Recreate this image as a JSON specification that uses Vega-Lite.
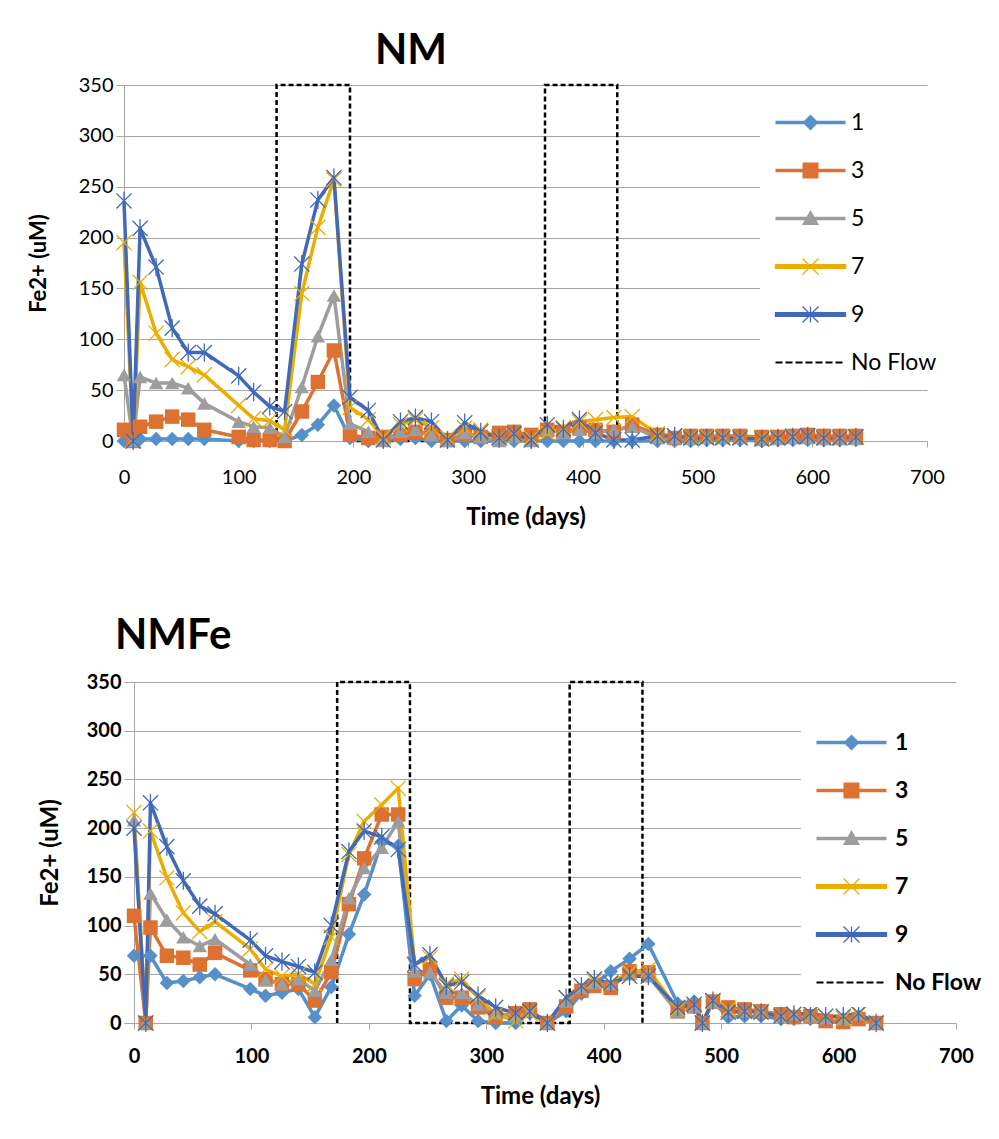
{
  "$schema": "https://vega.github.io/schema/vega-lite/v6.json",
  "padding": {"left": 27, "top": 30, "right": 5, "bottom": 5},
  "background": "white",
  "spacing": 86,
  "config": {
    "view": {"stroke": null},
    "font": "Lato",
    "axis": {"labelColor": "#000000", "titleColor": "#000000", "gridColor": "#A6A6A6", "domainColor": "#A6A6A6", "tickColor": "#A6A6A6", "labelFont": "Lato", "titleFont": "Lato", "labelFlush": false}
  },
  "resolve": {"legend": {"color": "independent"}},
  "datasets": {
    "nm": [
      {"d": 0, "1": 0, "3": 11, "5": 65, "7": 195, "9": 236},
      {"d": 8, "1": 0, "3": 0, "5": 0, "7": 0, "9": 0},
      {"d": 14, "1": 2, "3": 14, "5": 63, "7": 156, "9": 209},
      {"d": 28, "1": 2, "3": 19, "5": 57, "7": 106, "9": 171},
      {"d": 42, "1": 2, "3": 24, "5": 57, "7": 80, "9": 111},
      {"d": 56, "1": 2, "3": 21, "5": 52, "7": 73, "9": 87},
      {"d": 70, "1": 2, "3": 11, "5": 37, "7": 65, "9": 87},
      {"d": 100, "1": 0, "3": 4, "5": 19, "7": 35, "9": 64},
      {"d": 113, "1": 0, "3": 1, "5": 14, "7": 22, "9": 48},
      {"d": 127, "1": 0, "3": 1, "5": 13, "7": 20, "9": 34},
      {"d": 140, "1": 0, "3": 0, "5": 4, "7": 11, "9": 29},
      {"d": 155, "1": 6, "3": 29, "5": 53, "7": 145, "9": 174},
      {"d": 169, "1": 16, "3": 58, "5": 103, "7": 210, "9": 237},
      {"d": 183, "1": 35, "3": 89, "5": 143, "7": 257, "9": 259},
      {"d": 197, "1": 3, "3": 6, "5": 17, "7": 33, "9": 43},
      {"d": 213, "1": 0, "3": 3, "5": 9, "7": 21, "9": 30},
      {"d": 226, "1": 0, "3": 4, "5": 0, "7": 4, "9": 1},
      {"d": 241, "1": 2, "3": 6, "5": 9, "7": 16, "9": 19},
      {"d": 254, "1": 3, "3": 9, "5": 11, "7": 21, "9": 23},
      {"d": 268, "1": 0, "3": 6, "5": 6, "7": 13, "9": 19},
      {"d": 282, "1": 0, "3": 1, "5": 0, "7": 3, "9": 1},
      {"d": 297, "1": 0, "3": 6, "5": 8, "7": 13, "9": 18},
      {"d": 311, "1": 0, "3": 4, "5": 4, "7": 11, "9": 9},
      {"d": 327, "1": 0, "3": 8, "5": 0, "7": 4, "9": 3},
      {"d": 340, "1": 0, "3": 9, "5": 4, "7": 6, "9": 7},
      {"d": 355, "1": 0, "3": 6, "5": 0, "7": 3, "9": 1},
      {"d": 369, "1": 0, "3": 11, "5": 11, "7": 8, "9": 16},
      {"d": 383, "1": 0, "3": 9, "5": 8, "7": 13, "9": 12},
      {"d": 397, "1": 0, "3": 13, "5": 11, "7": 19, "9": 21},
      {"d": 411, "1": 0, "3": 11, "5": 8, "7": 21, "9": 8},
      {"d": 427, "1": 0, "3": 9, "5": 11, "7": 23, "9": 1},
      {"d": 443, "1": 0, "3": 16, "5": 14, "7": 24, "9": 1},
      {"d": 465, "1": 0, "3": 6, "5": 3, "7": 7, "9": 5},
      {"d": 480, "1": 0, "3": 3, "5": 3, "7": 5, "9": 5},
      {"d": 494, "1": 0, "3": 5, "5": 2, "7": 4, "9": 3},
      {"d": 508, "1": 1, "3": 5, "5": 3, "7": 4, "9": 3},
      {"d": 522, "1": 1, "3": 5, "5": 3, "7": 4, "9": 3},
      {"d": 537, "1": 1, "3": 5, "5": 3, "7": 4, "9": 3},
      {"d": 556, "1": 0, "3": 4, "5": 1, "7": 3, "9": 2},
      {"d": 570, "1": 1, "3": 4, "5": 2, "7": 4, "9": 3},
      {"d": 583, "1": 1, "3": 5, "5": 3, "7": 5, "9": 4},
      {"d": 596, "1": 1, "3": 6, "5": 3, "7": 5, "9": 5},
      {"d": 610, "1": 1, "3": 5, "5": 2, "7": 4, "9": 3},
      {"d": 624, "1": 1, "3": 5, "5": 2, "7": 4, "9": 3},
      {"d": 638, "1": 1, "3": 5, "5": 2, "7": 4, "9": 4}
    ],
    "nmfe": [
      {"d": 0, "1": 69, "3": 110, "5": 208, "7": 216, "9": 200},
      {"d": 10, "1": null, "3": 0, "5": 0, "7": 0, "9": 0},
      {"d": 14, "1": 69, "3": 98, "5": 133, "7": 197, "9": 226},
      {"d": 28, "1": 41, "3": 69, "5": 106, "7": 149, "9": 181},
      {"d": 42, "1": 43, "3": 67, "5": 88, "7": 113, "9": 146},
      {"d": 56, "1": 47, "3": 60, "5": 79, "7": 94, "9": 120},
      {"d": 69, "1": 50, "3": 72, "5": 86, "7": 104, "9": 112},
      {"d": 99, "1": 35, "3": 54, "5": 60, "7": 76, "9": 85},
      {"d": 112, "1": 28, "3": 45, "5": 44, "7": 55, "9": 69},
      {"d": 126, "1": 31, "3": 40, "5": 40, "7": 48, "9": 63},
      {"d": 140, "1": 35, "3": 40, "5": 45, "7": 50, "9": 58},
      {"d": 154, "1": 6, "3": 23, "5": 33, "7": 40, "9": 52},
      {"d": 168, "1": 37, "3": 52, "5": 65, "7": 88, "9": 100},
      {"d": 183, "1": 91, "3": 122, "5": 128, "7": 173, "9": 176},
      {"d": 196, "1": 132, "3": 169, "5": 159, "7": 207, "9": 197},
      {"d": 211, "1": 186, "3": 214, "5": 180, "7": 224, "9": 191},
      {"d": 225, "1": 182, "3": 214, "5": 207, "7": 241, "9": 178},
      {"d": 239, "1": 28, "3": 45, "5": 53, "7": 60, "9": 60},
      {"d": 252, "1": 50, "3": 55, "5": 52, "7": 67, "9": 70},
      {"d": 266, "1": 2, "3": 26, "5": 31, "7": 40, "9": 38},
      {"d": 279, "1": 18, "3": 26, "5": 31, "7": 45, "9": 42},
      {"d": 293, "1": 2, "3": 16, "5": 19, "7": 26, "9": 28},
      {"d": 308, "1": 0, "3": 6, "5": 10, "7": 9, "9": 16},
      {"d": 325, "1": 0, "3": 10, "5": 7, "7": 2, "9": 10},
      {"d": 337, "1": 10, "3": 14, "5": 12, "7": 10, "9": 12},
      {"d": 352, "1": 0, "3": 0, "5": 0, "7": 0, "9": 0},
      {"d": 368, "1": 12, "3": 17, "5": 22, "7": 26, "9": 26},
      {"d": 381, "1": 30, "3": 33, "5": 36, "7": 38, "9": 38},
      {"d": 392, "1": 40, "3": 38, "5": 41, "7": 43, "9": 45},
      {"d": 406, "1": 53, "3": 36, "5": 40, "7": 41, "9": 41},
      {"d": 422, "1": 66, "3": 53, "5": 50, "7": 52, "9": 48},
      {"d": 438, "1": 81, "3": 52, "5": 48, "7": 55, "9": 48},
      {"d": 463, "1": 20, "3": 12, "5": 11, "7": 14, "9": 16},
      {"d": 477, "1": 22, "3": 17, "5": 17, "7": 19, "9": 19},
      {"d": 484, "1": 0, "3": 0, "5": 0, "7": 0, "9": 0},
      {"d": 493, "1": 22, "3": 22, "5": 21, "7": 22, "9": 23},
      {"d": 506, "1": 6, "3": 16, "5": 11, "7": 14, "9": 11},
      {"d": 520, "1": 7, "3": 14, "5": 12, "7": 12, "9": 12},
      {"d": 534, "1": 7, "3": 12, "5": 12, "7": 12, "9": 11},
      {"d": 551, "1": 4, "3": 9, "5": 7, "7": 7, "9": 7},
      {"d": 562, "1": 4, "3": 6, "5": 9, "7": 9, "9": 9},
      {"d": 576, "1": 4, "3": 7, "5": 7, "7": 9, "9": 10},
      {"d": 589, "1": 2, "3": 2, "5": 5, "7": 7, "9": 7},
      {"d": 604, "1": 4, "3": 1, "5": 4, "7": 5, "9": 7},
      {"d": 617, "1": 5, "3": 4, "5": 9, "7": 9, "9": 10},
      {"d": 632, "1": 0, "3": 0, "5": 0, "7": 0, "9": 0}
    ],
    "noflow": [
      {"p": "NM", "series": "No Flow", "o": 1, "d": 133, "fe": 0},
      {"p": "NM", "series": "No Flow", "o": 2, "d": 133, "fe": 350},
      {"p": "NM", "series": "No Flow", "o": 3, "d": 197, "fe": 350},
      {"p": "NM", "series": "No Flow", "o": 4, "d": 197, "fe": 0},
      {"p": "NM", "series": "No Flow", "o": 5, "d": 367, "fe": 0},
      {"p": "NM", "series": "No Flow", "o": 6, "d": 367, "fe": 350},
      {"p": "NM", "series": "No Flow", "o": 7, "d": 430, "fe": 350},
      {"p": "NM", "series": "No Flow", "o": 8, "d": 430, "fe": 0},
      {"p": "NMFe", "series": "No Flow", "o": 1, "d": 173, "fe": 0},
      {"p": "NMFe", "series": "No Flow", "o": 2, "d": 173, "fe": 350},
      {"p": "NMFe", "series": "No Flow", "o": 3, "d": 235, "fe": 350},
      {"p": "NMFe", "series": "No Flow", "o": 4, "d": 235, "fe": 0},
      {"p": "NMFe", "series": "No Flow", "o": 5, "d": 371, "fe": 0},
      {"p": "NMFe", "series": "No Flow", "o": 6, "d": 371, "fe": 350},
      {"p": "NMFe", "series": "No Flow", "o": 7, "d": 433, "fe": 350},
      {"p": "NMFe", "series": "No Flow", "o": 8, "d": 433, "fe": 0}
    ]
  },
  "vconcat": [
    {
      "width": 803,
      "height": 356,
      "title": {"text": "NM", "anchor": "start", "frame": "group", "dx": 251, "offset": 2, "fontSize": 42, "font": "Lato", "fontWeight": "bold", "color": "#000000"},
      "layer": [
        {
          "data": {"name": "noflow"},
          "transform": [{"filter": "datum.p === 'NM'"}],
          "mark": {"type": "line", "strokeDash": [5, 3], "strokeWidth": 2.5},
          "encoding": {
            "x": {"field": "d", "type": "quantitative", "scale": {"domain": [0, 700], "nice": false, "zero": false},
              "axis": {"values": [0, 100, 200, 300, 400, 500, 600, 700], "title": "Time (days)", "grid": false, "tickSize": 6, "labelFontSize": 20, "labelPadding": 20, "titleFontSize": 24, "titleFontWeight": "bold", "titlePadding": 18}},
            "y": {"field": "fe", "type": "quantitative", "scale": {"domain": [0, 350], "nice": false},
              "axis": {"values": [0, 50, 100, 150, 200, 250, 300, 350], "title": "Fe2+ (uM)", "grid": true, "tickSize": 8, "labelFontSize": 20, "labelPadding": 3, "titleFontSize": 22, "titleFontWeight": "bold", "titlePadding": 28}},
            "order": {"field": "o", "type": "quantitative"},
            "color": {"field": "series", "type": "nominal",
              "scale": {"domain": ["1", "3", "5", "7", "9", "No Flow"], "range": ["#5590CB", "#DD7131", "#9D9D9D", "#EAAE00", "#4169B8", "#000000"]},
              "legend": {
                "title": null, "orient": "none", "legendX": 636, "legendY": 14,
                "symbolSize": 256, "labelFont": "Lato", "labelFontSize": 23, "labelColor": "#000000",
                "labelOffset": 56, "rowPadding": 24, "padding": 12, "fillColor": "white",
                "encode": {"symbols": {"update": {
                  "shape": {"signal": "datum.value === '1' ? 'M-1,-0.22H7.75V0.22H-1Z M3.375,-1L4.375,0L3.375,1L2.375,0Z' : datum.value === '3' ? 'M-1,-0.22H7.75V0.22H-1Z M2.375,-1H4.375V1H2.375Z' : datum.value === '5' ? 'M-1,-0.22H7.75V0.22H-1Z M3.375,-1.05L4.45,0.8H2.3Z' : datum.value === '7' ? 'M-1,-0.22H7.75V0.22H-1Z M2.375,-1L4.375,1M4.375,-1L2.375,1' : datum.value === '9' ? 'M-1,-0.22H7.75V0.22H-1Z M2.375,-1L4.375,1M4.375,-1L2.375,1M3.375,-1V1' : 'M-1,-0.13h0.875v0.26h-0.875Z M0.25,-0.13h0.875v0.26h-0.875Z M1.5,-0.13h0.875v0.26h-0.875Z M2.75,-0.13h0.875v0.26h-0.875Z M4,-0.13h0.875v0.26h-0.875Z M5.25,-0.13h0.875v0.26h-0.875Z M6.5,-0.13h0.875v0.26h-0.875Z'"},
                  "fill": {"signal": "datum.value === '1' ? '#5590CB' : datum.value === '3' ? '#DD7131' : datum.value === '5' ? '#9D9D9D' : datum.value === '7' ? '#EAAE00' : datum.value === '9' ? '#4169B8' : '#000000'"},
                  "stroke": {"signal": "datum.value === '7' ? '#EAAE00' : datum.value === '9' ? '#4169B8' : 'transparent'"},
                  "strokeWidth": {"signal": "datum.value === '7' || datum.value === '9' ? 1.3 : 0"},
                  "strokeDash": {"value": []},
                  "opacity": {"value": 1},
                  "fillOpacity": {"value": 1}
                }}}
              }}
          }
        },
        {
          "data": {"name": "nm"},
          "transform": [{"fold": ["1", "3", "5", "7", "9"], "as": ["series", "fe"]}],
          "mark": {"type": "line", "strokeWidth": 3.5, "strokeJoin": "round", "invalid": "filter"},
          "encoding": {
            "x": {"field": "d", "type": "quantitative"},
            "y": {"field": "fe", "type": "quantitative"},
            "color": {"field": "series", "type": "nominal"}
          }
        },
        {
          "data": {"name": "nm"},
          "transform": [{"fold": ["1", "3", "5", "7", "9"], "as": ["series", "fe"]}, {"filter": "datum.series === '1' || datum.series === '3' || datum.series === '5'"}],
          "mark": {"type": "point", "filled": true, "size": 210, "opacity": 1, "invalid": "filter"},
          "encoding": {
            "x": {"field": "d", "type": "quantitative"},
            "y": {"field": "fe", "type": "quantitative"},
            "color": {"field": "series", "type": "nominal"},
            "shape": {"field": "series", "type": "nominal", "legend": null,
              "scale": {"domain": ["1", "3", "5", "7", "9"], "range": ["diamond", "square", "triangle-up", "M-1,-1L1,1M1,-1L-1,1", "M-1,-1L1,1M1,-1L-1,1M0,-1.2L0,1.2"]}}
          }
        },
        {
          "data": {"name": "nm"},
          "transform": [{"fold": ["1", "3", "5", "7", "9"], "as": ["series", "fe"]}, {"filter": "datum.series === '7' || datum.series === '9'"}],
          "mark": {"type": "point", "filled": false, "size": 230, "strokeWidth": 1.3, "opacity": 1, "invalid": "filter"},
          "encoding": {
            "x": {"field": "d", "type": "quantitative"},
            "y": {"field": "fe", "type": "quantitative"},
            "color": {"field": "series", "type": "nominal"},
            "shape": {"field": "series", "type": "nominal", "legend": null}
          }
        }
      ]
    },
    {
      "width": 832,
      "height": 341,
      "title": {"text": "NMFe", "anchor": "start", "frame": "group", "dx": -9, "offset": 14, "fontSize": 42, "font": "Lato", "fontWeight": "bold", "color": "#000000"},
      "layer": [
        {
          "data": {"name": "noflow"},
          "transform": [{"filter": "datum.p === 'NMFe'"}],
          "mark": {"type": "line", "strokeDash": [5, 3], "strokeWidth": 2.5},
          "encoding": {
            "x": {"field": "d", "type": "quantitative", "scale": {"domain": [-8.52, 700], "nice": false, "zero": false},
              "axis": {"values": [0, 100, 200, 300, 400, 500, 600, 700], "title": "Time (days)", "grid": false, "tickSize": 6, "labelFontSize": 20, "labelFontWeight": "bold", "labelPadding": 17, "titleFontSize": 24, "titleFontWeight": "bold", "titlePadding": 18}},
            "y": {"field": "fe", "type": "quantitative", "scale": {"domain": [0, 350], "nice": false},
              "axis": {"values": [0, 50, 100, 150, 200, 250, 300, 350], "title": "Fe2+ (uM)", "grid": true, "offset": -10, "tickSize": 8, "labelFontSize": 20, "labelFontWeight": "bold", "labelPadding": 5, "titleFontSize": 24, "titleFontWeight": "bold", "titlePadding": 24}},
            "order": {"field": "o", "type": "quantitative"},
            "color": {"field": "series", "type": "nominal",
              "legend": {
                "title": null, "orient": "none", "legendX": 677, "legendY": 37,
                "symbolSize": 256, "labelFont": "Lato", "labelFontSize": 23, "labelFontWeight": "bold", "labelColor": "#000000",
                "labelOffset": 59, "rowPadding": 24, "padding": 12, "fillColor": "white",
                "encode": {"symbols": {"update": {
                  "shape": {"signal": "datum.value === '1' ? 'M-1,-0.22H7.75V0.22H-1Z M3.375,-1L4.375,0L3.375,1L2.375,0Z' : datum.value === '3' ? 'M-1,-0.22H7.75V0.22H-1Z M2.375,-1H4.375V1H2.375Z' : datum.value === '5' ? 'M-1,-0.22H7.75V0.22H-1Z M3.375,-1.05L4.45,0.8H2.3Z' : datum.value === '7' ? 'M-1,-0.22H7.75V0.22H-1Z M2.375,-1L4.375,1M4.375,-1L2.375,1' : datum.value === '9' ? 'M-1,-0.22H7.75V0.22H-1Z M2.375,-1L4.375,1M4.375,-1L2.375,1M3.375,-1V1' : 'M-1,-0.13h0.875v0.26h-0.875Z M0.25,-0.13h0.875v0.26h-0.875Z M1.5,-0.13h0.875v0.26h-0.875Z M2.75,-0.13h0.875v0.26h-0.875Z M4,-0.13h0.875v0.26h-0.875Z M5.25,-0.13h0.875v0.26h-0.875Z M6.5,-0.13h0.875v0.26h-0.875Z'"},
                  "fill": {"signal": "datum.value === '1' ? '#5590CB' : datum.value === '3' ? '#DD7131' : datum.value === '5' ? '#9D9D9D' : datum.value === '7' ? '#EAAE00' : datum.value === '9' ? '#4169B8' : '#000000'"},
                  "stroke": {"signal": "datum.value === '7' ? '#EAAE00' : datum.value === '9' ? '#4169B8' : 'transparent'"},
                  "strokeWidth": {"signal": "datum.value === '7' || datum.value === '9' ? 1.3 : 0"},
                  "strokeDash": {"value": []},
                  "opacity": {"value": 1},
                  "fillOpacity": {"value": 1}
                }}}
              }}
          }
        },
        {
          "data": {"name": "nmfe"},
          "transform": [{"fold": ["1", "3", "5", "7", "9"], "as": ["series", "fe"]}],
          "mark": {"type": "line", "strokeWidth": 3.5, "strokeJoin": "round", "invalid": "filter"},
          "encoding": {
            "x": {"field": "d", "type": "quantitative"},
            "y": {"field": "fe", "type": "quantitative"},
            "color": {"field": "series", "type": "nominal"}
          }
        },
        {
          "data": {"name": "nmfe"},
          "transform": [{"fold": ["1", "3", "5", "7", "9"], "as": ["series", "fe"]}, {"filter": "datum.series === '1' || datum.series === '3' || datum.series === '5'"}],
          "mark": {"type": "point", "filled": true, "size": 210, "opacity": 1, "invalid": "filter"},
          "encoding": {
            "x": {"field": "d", "type": "quantitative"},
            "y": {"field": "fe", "type": "quantitative"},
            "color": {"field": "series", "type": "nominal"},
            "shape": {"field": "series", "type": "nominal", "legend": null,
              "scale": {"domain": ["1", "3", "5", "7", "9"], "range": ["diamond", "square", "triangle-up", "M-1,-1L1,1M1,-1L-1,1", "M-1,-1L1,1M1,-1L-1,1M0,-1.2L0,1.2"]}}
          }
        },
        {
          "data": {"name": "nmfe"},
          "transform": [{"fold": ["1", "3", "5", "7", "9"], "as": ["series", "fe"]}, {"filter": "datum.series === '7' || datum.series === '9'"}],
          "mark": {"type": "point", "filled": false, "size": 230, "strokeWidth": 1.3, "opacity": 1, "invalid": "filter"},
          "encoding": {
            "x": {"field": "d", "type": "quantitative"},
            "y": {"field": "fe", "type": "quantitative"},
            "color": {"field": "series", "type": "nominal"},
            "shape": {"field": "series", "type": "nominal", "legend": null}
          }
        }
      ]
    }
  ]
}
